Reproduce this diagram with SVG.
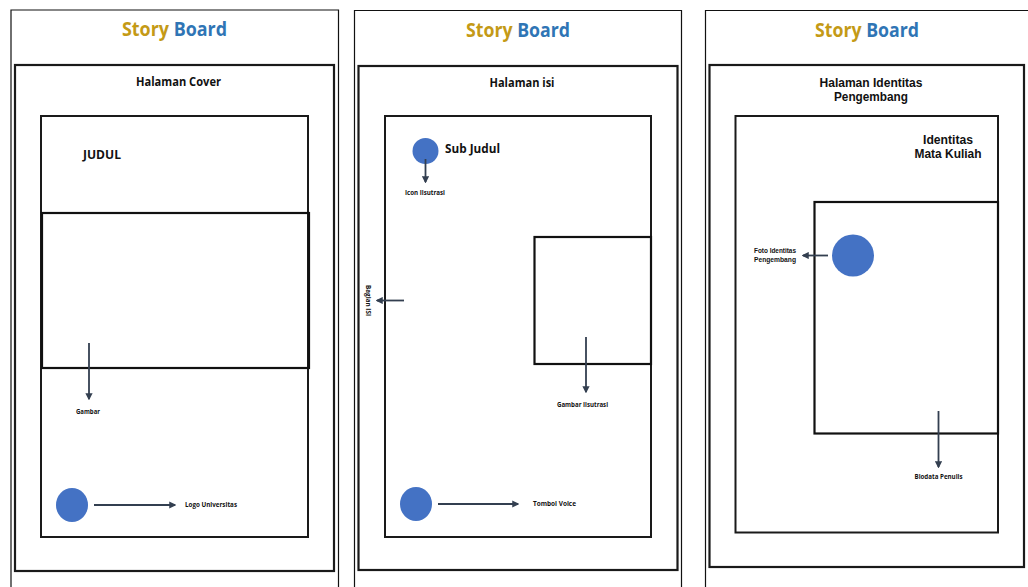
<svg xmlns="http://www.w3.org/2000/svg" width="1028" height="587" viewBox="0 0 1028 587">
<style>
.bg{fill:#fff}
.page{fill:#fff;stroke:#111;stroke-width:1.2}
.frame{fill:none;stroke:#1a1a1a;stroke-width:2.2}
.box{fill:none;stroke:#1a1a1a;stroke-width:2}
.img{fill:none;stroke:#111;stroke-width:2.2}
.dot{fill:#4472C4}
.arr{stroke:#333F50;stroke-width:1.8;fill:none;marker-end:url(#ah)}
.t{font-family:"Open Sans","Liberation Sans",sans-serif;font-weight:bold;fill:#111}
.ls{font-family:"Liberation Sans",sans-serif}
.ttl{font-family:"Open Sans","Liberation Sans",sans-serif;font-weight:bold;font-size:19px}
.gold{fill:#C49A16}
.blue{fill:#2F75B5}
.h{font-size:12px}
.s{font-size:6.5px}
.m{font-size:12.5px}
</style>
<defs>
<marker id="ah" viewBox="0 0 10 10" refX="8" refY="5" markerWidth="4" markerHeight="4" orient="auto" markerUnits="strokeWidth">
<path d="M0,0 L10,5 L0,10 z" fill="#333F50"/>
</marker>
</defs>
<rect class="bg" x="0" y="0" width="1028" height="587"/>

<!-- Panel 1 -->
<g id="page-cover">
<path class="page" d="M11,600 V10 H338.5 V600"/>
<text class="ttl" x="174.5" y="36" text-anchor="middle" textLength="105" lengthAdjust="spacingAndGlyphs"><tspan class="gold">Story</tspan> <tspan class="blue">Board</tspan></text>
<rect class="frame" x="15" y="65" width="319" height="506"/>
<text class="t h" x="178.5" y="86" text-anchor="middle" textLength="85" lengthAdjust="spacingAndGlyphs">Halaman Cover</text>
</g>
<g id="cover-content">
<rect class="box" x="41" y="116" width="267" height="421"/>
<text class="t h" x="83" y="159" textLength="38" lengthAdjust="spacingAndGlyphs">JUDUL</text>
</g>
<g id="cover-gambar">
<rect class="img" x="42" y="213" width="267" height="155"/>
<text class="t s" x="88" y="414" text-anchor="middle" textLength="24" lengthAdjust="spacingAndGlyphs">Gambar</text>
</g>
<g id="cover-logo">
<ellipse class="dot" cx="72" cy="505" rx="16" ry="17"/>
<text class="t s" x="185" y="507" textLength="52" lengthAdjust="spacingAndGlyphs">Logo Universitas</text>
</g>

<!-- Panel 2 -->
<g id="page-isi">
<path class="page" d="M354.5,600 V10.5 H681.5 V600"/>
<text class="ttl" x="518" y="36.5" text-anchor="middle" textLength="104" lengthAdjust="spacingAndGlyphs"><tspan class="gold">Story</tspan> <tspan class="blue">Board</tspan></text>
<rect class="frame" x="358.5" y="66" width="319" height="504"/>
<text class="t h" x="522" y="87" text-anchor="middle" textLength="65" lengthAdjust="spacingAndGlyphs">Halaman isi</text>
</g>
<g id="isi-content">
<rect class="box" x="385" y="116" width="266" height="421"/>
<text class="t s" transform="translate(366,300.5) rotate(90)" text-anchor="middle" textLength="31" lengthAdjust="spacingAndGlyphs">Bagian ISI</text>
</g>
<g id="isi-subjudul">
<circle class="dot" cx="425.5" cy="151" r="13"/>
<text class="t m" x="445" y="153" textLength="55" lengthAdjust="spacingAndGlyphs">Sub Judul</text>
<text class="t s" x="425" y="194.5" text-anchor="middle" textLength="40" lengthAdjust="spacingAndGlyphs">Icon Ilsutrasi</text>
</g>
<g id="isi-gambar">
<rect class="img" x="534.5" y="237" width="116.5" height="127"/>
<text class="t s" x="582.5" y="407" text-anchor="middle" textLength="51" lengthAdjust="spacingAndGlyphs">Gambar Ilsutrasi</text>
</g>
<g id="isi-voice">
<ellipse class="dot" cx="416" cy="504" rx="16" ry="17"/>
<text class="t s" x="533" y="506" textLength="43" lengthAdjust="spacingAndGlyphs">Tombol Voice</text>
</g>

<!-- Panel 3 -->
<g id="page-identitas">
<path class="page" d="M705.5,600 V10.5 H1040"/>
<text class="ttl" x="867" y="36.5" text-anchor="middle" textLength="104" lengthAdjust="spacingAndGlyphs"><tspan class="gold">Story</tspan> <tspan class="blue">Board</tspan></text>
<rect class="frame" x="709.5" y="65" width="314.5" height="502"/>
<text class="t ls h" x="871" y="87" text-anchor="middle" textLength="103" lengthAdjust="spacingAndGlyphs">Halaman Identitas</text>
<text class="t ls h" x="871" y="101" text-anchor="middle" textLength="74" lengthAdjust="spacingAndGlyphs">Pengembang</text>
</g>
<g id="identitas-content">
<rect class="box" x="735.5" y="116" width="262.5" height="416.5"/>
<text class="t ls h" x="948" y="144" text-anchor="middle" textLength="50" lengthAdjust="spacingAndGlyphs">Identitas</text>
<text class="t ls h" x="948" y="158" text-anchor="middle" textLength="67" lengthAdjust="spacingAndGlyphs">Mata Kuliah</text>
</g>
<g id="identitas-biodata">
<rect class="img" x="814.5" y="202" width="183.5" height="231.5"/>
<text class="t s" x="938.5" y="479" text-anchor="middle" textLength="48" lengthAdjust="spacingAndGlyphs">Biodata Penulis</text>
</g>
<g id="identitas-foto">
<circle class="dot" cx="853" cy="255.5" r="21"/>
<text class="t ls s" x="775" y="253" text-anchor="middle" textLength="42" lengthAdjust="spacingAndGlyphs">Foto Identitas</text>
<text class="t ls s" x="775" y="261.5" text-anchor="middle" textLength="42" lengthAdjust="spacingAndGlyphs">Pengembang</text>
</g>

<g id="connectors">
<line class="arr" x1="89" y1="343" x2="89" y2="399"/>
<line class="arr" x1="94" y1="505" x2="175" y2="505"/>
<line class="arr" x1="425.5" y1="159" x2="425.5" y2="182"/>
<line class="arr" x1="404" y1="300.5" x2="377" y2="300.5"/>
<line class="arr" x1="586" y1="337" x2="586" y2="392"/>
<line class="arr" x1="438" y1="504" x2="518" y2="504"/>
<line class="arr" x1="828" y1="255.5" x2="803" y2="255.5"/>
<line class="arr" x1="938.5" y1="411" x2="938.5" y2="467"/>
</g>
</svg>
